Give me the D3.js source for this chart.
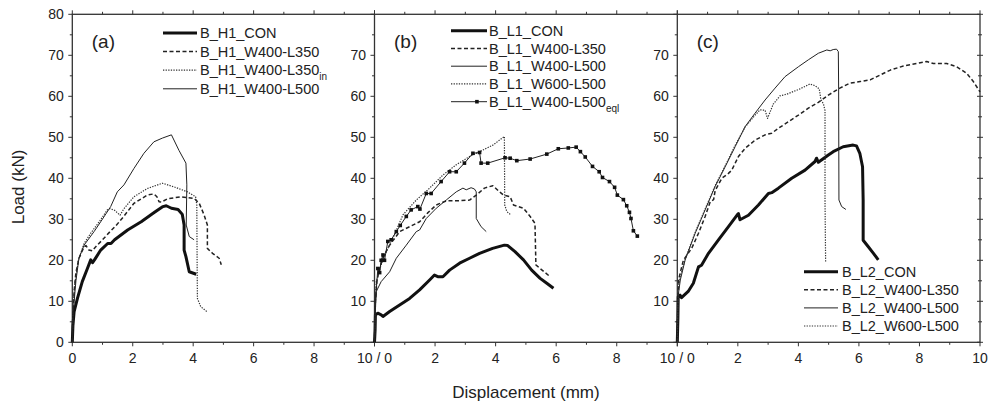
<!DOCTYPE html>
<html><head><meta charset="utf-8">
<script src="https://cdn.jsdelivr.net/npm/d3@7"></script>
<style>body{margin:0;background:#fff;} text{font-family:"Liberation Sans",Arial,sans-serif;fill:#222;}</style>
</head><body><svg id="c" width="992" height="407"></svg>
<script>
// ---------- DATA ----------
const xTicks = [0,1,2,3,4,5,6,7,8,9,10];
const yTicks = [0,5,10,15,20,25,30,35,40,45,50,55,60,65,70,75,80];
const panelLabels = ["(a)","(b)","(c)"];

// Panel (a)
const H1_CON = [[0,0],[0.02,4],[0.06,7.5],[0.17,10.7],[0.33,14.8],[0.5,18],[0.61,20.1],[0.67,19.4],[0.75,20.3],[0.94,22.5],[1.17,24.1],[1.28,24.1],[1.4,25],[1.83,27.4],[2.28,29.4],[2.72,31.7],[3.0,33.1],[3.11,33.3],[3.28,32.7],[3.5,32.4],[3.64,31.2],[3.7,28.6],[3.7,22.5],[3.76,20.9],[3.87,17.2],[4.1,16.6]];
const H1_W400_L350 = [[0,0],[0.03,8],[0.06,12.4],[0.12,17],[0.22,20.5],[0.39,23.3],[0.45,23.6],[0.55,22.5],[0.66,22.3],[0.8,23.5],[1.0,25],[1.25,27],[1.45,28.5],[1.69,30.6],[2.04,33.9],[2.24,34.8],[2.48,35.9],[2.7,36.2],[2.8,35.5],[2.87,34.3],[2.95,34.2],[3.15,35],[3.6,35.5],[4.03,35.1],[4.2,33.9],[4.36,31.1],[4.47,28.6],[4.47,22.9],[4.64,21.7],[4.86,20.5],[4.93,18.9]];
const H1_W400_L350in = [[0,0],[0.03,9],[0.08,14],[0.2,20],[0.39,24.1],[0.6,26.5],[0.9,29.5],[1.16,32.3],[1.25,32.6],[1.4,32.2],[1.58,31],[1.7,32.5],[2.04,35.5],[2.48,37.5],[2.98,38.8],[3.37,37.9],[3.81,36.7],[4.08,35.5],[4.12,33.5],[4.13,20],[4.14,10.7],[4.25,8.7],[4.45,7.5]];
const H1_W400_L500 = [[0,0],[0.03,7],[0.06,9.9],[0.12,15],[0.22,20.5],[0.39,23.7],[0.72,27],[0.94,29.4],[1.27,33.1],[1.49,36.7],[1.71,38.4],[2.04,42.4],[2.37,46.1],[2.7,48.9],[2.98,49.8],[3.28,50.6],[3.53,46.8],[3.76,43.7],[3.79,38.4],[3.77,28.6],[3.87,25.8],[4.03,25]];

// Panel (b)
const L1_CON = [[0,0],[0.02,3],[0.03,6.7],[0.11,7.1],[0.22,6.7],[0.28,6.3],[0.5,7.5],[0.83,9.1],[1.16,10.7],[1.49,12.8],[1.82,15.2],[1.98,16.4],[2.09,16.0],[2.26,16.0],[2.48,17.6],[2.81,19.3],[3.14,20.5],[3.47,21.7],[3.9,22.9],[4.29,23.7],[4.4,23.6],[4.64,22.1],[4.92,20.1],[5.19,17.6],[5.47,15.6],[5.69,14.4],[5.91,13.2]];
const L1_W400_L350 = [[0,0],[0.03,10],[0.08,15],[0.17,18],[0.3,21],[0.5,23.7],[0.83,27],[1.16,28.2],[1.49,29.4],[1.75,31.5],[2.04,33.5],[2.37,34.5],[2.7,34.5],[3.14,34.7],[3.36,35.9],[3.63,37.6],[3.91,38.2],[4.13,36.7],[4.26,35.9],[4.48,35.5],[4.59,33.5],[4.92,32.7],[5.14,30.7],[5.3,29.0],[5.33,18.9],[5.47,18],[5.8,16]];
const L1_W400_L500 = [[0,0],[0.03,8],[0.06,12.4],[0.22,14.8],[0.5,17.2],[0.72,20.5],[1.05,23.7],[1.38,27],[1.49,27.4],[1.71,30.2],[2.04,32.7],[2.37,34.7],[2.7,36.7],[2.92,37.6],[3.03,37.2],[3.19,37.7],[3.3,37.4],[3.36,36.7],[3.36,30.2],[3.52,28.2],[3.69,27]];
const L1_W600_L500 = [[0,0],[0.03,10],[0.06,14.8],[0.28,20.5],[0.61,25.4],[0.94,31.1],[1.38,34.7],[1.82,37.6],[2.26,40.8],[2.7,43.3],[3.14,45.3],[3.58,46.9],[3.91,48.1],[4.29,50.2],[4.3,33.5],[4.37,31.9],[4.5,31.1]];
const L1_W400_L500eql = [[0,0],[0.03,10],[0.08,15],[0.11,18],[0.17,17],[0.22,20],[0.28,21.3],[0.33,20],[0.44,24.6],[0.55,25],[0.72,27],[0.85,28.5],[1.05,30.7],[1.21,32.3],[1.43,33.1],[1.5,32.5],[1.71,36.3],[1.87,36.3],[2.2,39.2],[2.48,41.6],[2.7,41.6],[2.97,43.7],[3.25,46.1],[3.47,46.3],[3.52,43.7],[3.74,43.7],[4.31,45],[4.48,44.9],[4.7,44.3],[5.14,44.7],[5.69,45.9],[6.07,47.2],[6.4,47.4],[6.66,47.6],[6.8,46.5],[6.96,45.2],[7.2,42.9],[7.42,41.6],[7.53,40.2],[7.76,39.2],[7.93,37.8],[8.02,35.9],[8.22,34.8],[8.33,33.3],[8.42,31.7],[8.47,30.2],[8.55,27.2],[8.68,25.9]];

// Panel (c)
const L2_CON = [[0,0],[0.02,6],[0.03,11.1],[0.09,11.5],[0.14,10.9],[0.36,12.4],[0.53,14.4],[0.7,18.4],[0.8,18.8],[1.03,21.7],[1.36,25],[1.69,28.2],[1.98,31.1],[2.02,31.4],[2.07,29.9],[2.35,31],[2.68,33.5],[3.01,36.3],[3.12,36.5],[3.34,37.6],[3.78,40],[4.22,42],[4.55,44.1],[4.6,44.9],[4.66,43.9],[4.99,45.7],[5.15,46.5],[5.48,47.7],[5.81,48.1],[5.92,47.9],[6.03,46.1],[6.12,42.8],[6.14,34.7],[6.14,24.9],[6.31,23.3],[6.48,21.7],[6.64,20.1]];
const L2_W400_L350 = [[0,0],[0.02,10],[0.05,15.5],[0.2,20],[0.48,23],[0.7,26.6],[0.92,30.7],[1.09,34.3],[1.2,34.8],[1.25,37],[1.47,40],[1.69,41.2],[1.8,42],[2.02,45.3],[2.24,47.3],[2.57,49.3],[2.9,50.6],[3.12,51],[3.34,52.2],[3.67,53.8],[4.0,55.4],[4.33,57.1],[4.66,58.5],[4.99,60.3],[5.37,62],[5.7,63.2],[6.04,63.6],[6.37,64],[6.7,65.2],[7.04,66.4],[7.47,67.4],[7.91,68],[8.24,68.5],[8.46,68],[8.9,68],[9.23,67.2],[9.56,65.6],[9.78,63.6],[10,61.1]];
const L2_W400_L500 = [[0,0],[0.02,8],[0.04,12],[0.1,15.2],[0.26,20.1],[0.59,26.6],[0.92,32.3],[1.25,38],[1.58,42.8],[1.91,47.7],[2.24,52.6],[2.57,55.9],[2.9,59.1],[3.23,62],[3.56,64.8],[4.0,67.2],[4.33,68.9],[4.66,70.5],[4.94,71.3],[5.05,71.1],[5.15,71.4],[5.26,71.5],[5.32,70.9],[5.33,62],[5.34,34.7],[5.43,33.1],[5.57,32.4]];
const L2_W600_L500 = [[0,0],[0.02,9],[0.05,14],[0.1,16],[0.26,20.3],[0.59,26.8],[0.92,32.5],[1.25,38.2],[1.58,43],[1.91,48],[2.24,52.5],[2.57,55.4],[2.73,56.7],[2.9,56.6],[2.98,54.6],[3.17,58.1],[3.39,60.1],[3.61,60.5],[4.05,61.8],[4.38,63],[4.55,62.6],[4.69,61.8],[4.74,59.3],[4.83,58.1],[4.88,56.5],[4.88,34.6],[4.9,19.7]];

const namesA = ["B_H1_CON","B_H1_W400-L350","B_H1_W400-L350","B_H1_W400-L500"];
const subsA = ["","","in",""];
const namesB = ["B_L1_CON","B_L1_W400-L350","B_L1_W400-L500","B_L1_W600-L500","B_L1_W400-L500"];
const subsB = ["","","","","eql"];
const namesC = ["B_L2_CON","B_L2_W400-L350","B_L2_W400-L500","B_L2_W600-L500"];
const subsC = ["","","",""];

// ---------- STYLES / LAYOUT ----------
const styles = {
  thick:{w:3,dash:null,c:"#111"},
  dash:{w:1.5,dash:"4,2.5",c:"#222"},
  dot:{w:1.2,dash:"1.3,1.3",c:"#333"},
  thin:{w:1,dash:null,c:"#222"},
  mark:{w:1,dash:null,c:"#222",marker:true}
};
const svg = d3.select("#c");
const yTop = 14.3, yBot = 342.3;
const edges = [72.3, 374.5, 677.3, 980];
const y = d3.scaleLinear().domain([0,80]).range([yBot, yTop]);
const xs = [0,1,2].map(i => d3.scaleLinear().domain([0,10]).range([edges[i], edges[i+1]]));

const panels = [
  {series:[H1_CON,H1_W400_L350,H1_W400_L350in,H1_W400_L500], st:["thick","dash","dot","thin"], names:namesA, subs:subsA, leg:{x1:163,x2:197,tx:200,y0:33,dy:18.6}},
  {series:[L1_CON,L1_W400_L350,L1_W400_L500,L1_W600_L500,L1_W400_L500eql], st:["thick","dash","thin","dot","mark"], names:namesB, subs:subsB, leg:{x1:451,x2:487,tx:489,y0:30.7,dy:17.75}},
  {series:[L2_CON,L2_W400_L350,L2_W400_L500,L2_W600_L500], st:["thick","dash","thin","dot"], names:namesC, subs:subsC, leg:{x1:804,x2:838,tx:842,y0:271.7,dy:18.1}}
];

const ax = "#333";
svg.append("rect").attr("x",edges[0]).attr("y",yTop).attr("width",edges[3]-edges[0]).attr("height",yBot-yTop)
  .attr("fill","none").attr("stroke",ax).attr("stroke-width",1.3);
[1,2].forEach(i=>svg.append("line").attr("x1",edges[i]).attr("x2",edges[i]).attr("y1",yTop).attr("y2",yBot).attr("stroke",ax).attr("stroke-width",1.3));

xs.forEach((x,i)=>{
  xTicks.forEach(t=>{
    const len = t%2===0?4:2.5;
    svg.append("line").attr("x1",x(t)).attr("x2",x(t)).attr("y1",yBot).attr("y2",yBot+len).attr("stroke",ax).attr("stroke-width",1);
    svg.append("line").attr("x1",x(t)).attr("x2",x(t)).attr("y1",yTop).attr("y2",yTop-len).attr("stroke",ax).attr("stroke-width",1);
  });
  xTicks.filter(t=>t%2===0 && t>0 && t<10).forEach(t=>{
    svg.append("text").attr("x",x(t)).attr("y",363).attr("text-anchor","middle").attr("font-size",14).text(t);
  });
});
svg.append("text").attr("x",xs[0](0)).attr("y",363).attr("text-anchor","middle").attr("font-size",14).text("0");
svg.append("text").attr("x",xs[0](10)).attr("y",363).attr("text-anchor","middle").attr("font-size",14).text("10 / 0");
svg.append("text").attr("x",xs[1](10)).attr("y",363).attr("text-anchor","middle").attr("font-size",14).text("10 / 0");
svg.append("text").attr("x",xs[2](10)).attr("y",363).attr("text-anchor","middle").attr("font-size",14).text("10");

[0,1,2].forEach(i=>{
  const ex = edges[i];
  yTicks.forEach(t=>{
    const len = t%10===0?4:2.5;
    svg.append("line").attr("x1",ex-len).attr("x2",ex).attr("y1",y(t)).attr("y2",y(t)).attr("stroke",ax).attr("stroke-width",1);
    const show = i===0 ? (t%10===0) : (t%10===0 && t>0 && t<80);
    if(show) svg.append("text").attr("x",ex-8.5).attr("y",y(t)).attr("dy","0.35em").attr("text-anchor","end").attr("font-size",14).text(t);
  });
});
yTicks.forEach(t=>{
  const len = t%10===0?3:2;
  svg.append("line").attr("x1",edges[3]-len).attr("x2",edges[3]+len).attr("y1",y(t)).attr("y2",y(t)).attr("stroke",ax).attr("stroke-width",1);
});

const line = x => d3.line().x(d=>x(d[0])).y(d=>y(d[1]));
panels.forEach((p,i)=>{
  const x = xs[i];
  p.series.forEach((s,k)=>{
    const st = styles[p.st[k]];
    svg.append("path").attr("d",line(x)(s)).attr("fill","none").attr("stroke",st.c)
      .attr("stroke-width",st.w).attr("stroke-dasharray",st.dash).attr("stroke-linejoin","round");
    if(st.marker){
      svg.selectAll(null).data(s.slice(3)).enter().append("rect")
        .attr("x",d=>x(d[0])-1.8).attr("y",d=>y(d[1])-1.8).attr("width",3.6).attr("height",3.6).attr("fill","#111");
    }
  });
  const L = p.leg;
  p.names.forEach((n,k)=>{
    const st = styles[p.st[k]];
    const yy = L.y0 + k*L.dy;
    svg.append("line").attr("x1",L.x1).attr("x2",L.x2).attr("y1",yy).attr("y2",yy).attr("stroke",st.c)
      .attr("stroke-width",st.w).attr("stroke-dasharray",st.dash);
    if(st.marker) svg.append("rect").attr("x",L.x1+(L.x2-L.x1)*0.72-1.8).attr("y",yy-1.8).attr("width",3.6).attr("height",3.6).attr("fill","#111");
    const t = svg.append("text").attr("x",L.tx).attr("y",yy).attr("dy","0.36em").attr("font-size",14.5).text(n);
    if(p.subs[k]) t.append("tspan").attr("font-size",10).attr("dy",5).text(p.subs[k]);
  });
  svg.append("text").attr("x",edges[i]+19.5).attr("y",47.5).attr("font-size",19).text(panelLabels[i]);
});

svg.append("text").attr("transform","translate(24,187) rotate(-90)").attr("text-anchor","middle").attr("font-size",17).text("Load (kN)");
svg.append("text").attr("x",526).attr("y",398).attr("text-anchor","middle").attr("font-size",17).text("Displacement (mm)");
</script></body></html>
